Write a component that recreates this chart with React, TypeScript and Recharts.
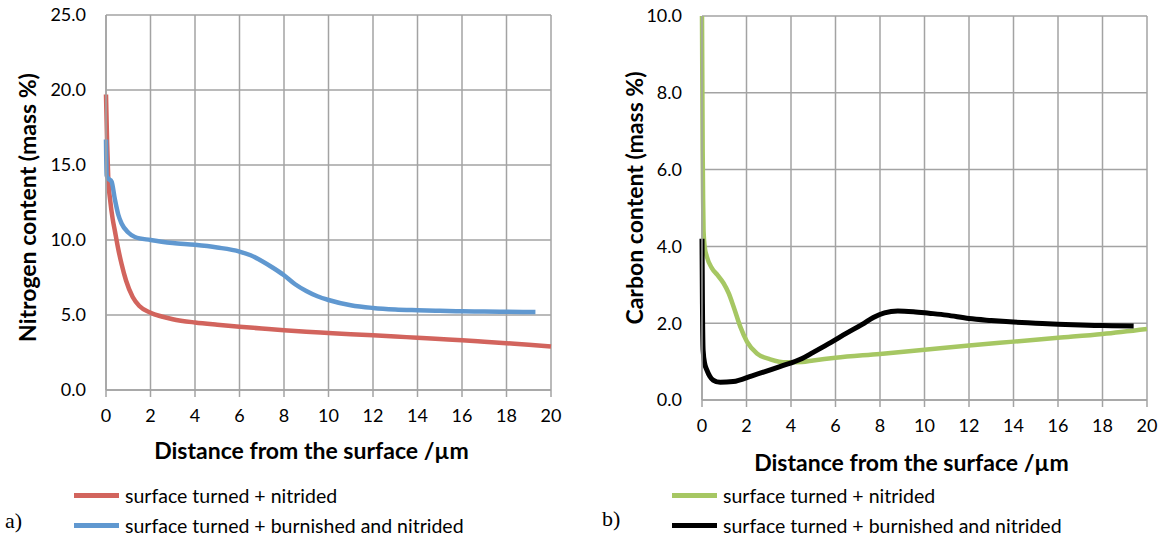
import { LineChart, Line, XAxis, YAxis, CartesianGrid, Legend } from 'recharts';

// a) nitrogen profiles
const redX = [0, 0.05, 0.1, 0.2, 0.3, 0.4, 0.55, 0.7, 0.9, 1.2, 1.5, 2, 2.5, 3, 4, 5, 6, 7, 8, 9, 10, 11, 12, 13, 14, 15, 16, 17, 18, 19, 20];
const redY = [19.7, 16.5, 14.2, 12.5, 11.4, 10.6, 9.4, 8.4, 7.3, 6.2, 5.6, 5.15, 4.9, 4.72, 4.5, 4.35, 4.22, 4.1, 3.98, 3.88, 3.8, 3.72, 3.65, 3.57, 3.48, 3.4, 3.32, 3.22, 3.12, 3.02, 2.9];

const blueX = [0, 0.03, 0.1, 0.25, 0.4, 0.55, 0.7, 1, 1.3, 2, 2.5, 3, 4, 5, 6, 6.5, 7, 7.5, 8, 8.5, 9, 9.5, 10, 11, 12, 13, 14, 15, 16, 17, 18, 19.3];
const blueY = [16.7, 14.3, 14.1, 13.9, 12.7, 11.7, 11.1, 10.5, 10.2, 10.0, 9.89, 9.8, 9.68, 9.5, 9.23, 8.98, 8.6, 8.15, 7.65, 7.05, 6.6, 6.25, 6.0, 5.65, 5.47, 5.37, 5.32, 5.28, 5.25, 5.23, 5.21, 5.2];

// b) carbon profiles
const greenX = [0, 0.03, 0.05, 0.07, 0.12, 0.22, 0.45, 0.7, 0.97, 1.2, 1.42, 1.72, 2.02, 2.47, 3.07, 3.8, 4.5, 5, 6, 8, 10, 12, 14, 16, 18, 20];
const greenY = [10.0, 6.5, 5.2, 4.4, 4.0, 3.73, 3.43, 3.25, 3.04, 2.78, 2.43, 1.91, 1.52, 1.21, 1.06, 0.98, 0.99, 1.03, 1.1, 1.2, 1.31, 1.42, 1.52, 1.62, 1.72, 1.85];

const blackX = [0, 0.02, 0.05, 0.12, 0.22, 0.35, 0.5, 0.82, 1.4, 2.25, 3.5, 4.5, 5, 5.8, 6.5, 7.2, 7.7, 8.2, 8.8, 9.5, 10.2, 11, 12, 13, 14, 15, 16, 17, 18, 19.4];
const blackY = [4.2, 2.5, 1.3, 0.95, 0.78, 0.62, 0.52, 0.46, 0.48, 0.63, 0.87, 1.08, 1.24, 1.5, 1.74, 1.97, 2.15, 2.27, 2.32, 2.3, 2.26, 2.21, 2.12, 2.07, 2.03, 2.0, 1.97, 1.95, 1.94, 1.93];

const xTicks = [0, 2, 4, 6, 8, 10, 12, 14, 16, 18, 20];
const nTicks = [0, 5, 10, 15, 20, 25];
const cTicks = [0, 2, 4, 6, 8, 10];

const seriesNames = ['surface turned + nitrided', 'surface turned + burnished and nitrided'];

const zip = (xs: number[], ys: number[]) => xs.map((x, i) => ({ x, y: ys[i] }));

const FONT = 'Lato, "Open Sans", sans-serif';
const GRID = '#a3a3a3';

function AxisTitle({ viewBox, text, rotate, dx, dy }: any) {
  const { x, y, width, height } = viewBox;
  const px = rotate ? x + dx : x + width / 2 + dx;
  const py = rotate ? y + height / 2 + dy : y + dy;
  return (
    <text
      x={px}
      y={py}
      transform={rotate ? `rotate(-90 ${px} ${py})` : undefined}
      textAnchor="middle"
      dominantBaseline="central"
      fontFamily={FONT}
      fontWeight={700}
      fontSize={23}
      fill="#000"
    >
      {text}
    </text>
  );
}

function LegendBox({ payload }: any) {
  const items = [...(payload || [])].sort(
    (a: any, b: any) => seriesNames.indexOf(a.value) - seriesNames.indexOf(b.value)
  );
  return (
    <div style={{ fontFamily: FONT, fontSize: 19.5, color: '#000' }}>
      {items.map((p: any, i: number) => (
        <div key={i} style={{ display: 'flex', alignItems: 'center', height: 30 }}>
          <span style={{ display: 'inline-block', width: 45, height: 5, background: p.color, marginRight: 6 }} />
          <span>{p.value}</span>
        </div>
      ))}
    </div>
  );
}

const tickStyle = { fontFamily: FONT, fontSize: 18, fill: '#000' };

function Panel({ left, width, yAxisW, margin, yTicks, yMax, yTitle, yTitleDx, yTitleDy, xTitleDx, xTitleDy, series, legendLeft }: any) {
  return (
    <div style={{ position: 'absolute', left, top: 0 }}>
      <LineChart width={width} height={541} margin={margin}>
        <CartesianGrid stroke={GRID} strokeWidth={1.5} horizontalValues={yTicks} verticalValues={xTicks} />
        <XAxis
          type="number"
          dataKey="x"
          domain={[0, 20]}
          ticks={xTicks}
          height={70}
          stroke={GRID}
          strokeWidth={1.5}
          tickSize={7}
          tickMargin={12}
          tick={tickStyle}
          label={{ content: (p: any) => <AxisTitle {...p} text="Distance from the surface /µm" dx={xTitleDx} dy={xTitleDy} /> }}
        />
        <YAxis
          type="number"
          domain={[0, yMax]}
          ticks={yTicks}
          width={yAxisW}
          stroke={GRID}
          strokeWidth={1.5}
          tickSize={0}
          tickMargin={20}
          tick={tickStyle}
          tickFormatter={(v: number) => v.toFixed(1)}
          label={{ content: (p: any) => <AxisTitle {...p} text={yTitle} rotate dx={yTitleDx} dy={yTitleDy} /> }}
        />
        {series.map((s: any, i: number) => (
          <Line
            key={i}
            data={s.data}
            dataKey="y"
            name={seriesNames[i]}
            type="monotone"
            stroke={s.color}
            strokeWidth={s.w}
            dot={false}
            isAnimationActive={false}
          />
        ))}
        <Legend
          layout="vertical"
          align="center"
          verticalAlign="middle"
          content={<LegendBox />}
          wrapperStyle={{ left: legendLeft, top: 480, width: 500 }}
        />
      </LineChart>
    </div>
  );
}

export default function App() {
  return (
    <div style={{ position: 'absolute', left: 0, top: 0, width: 1164, height: 541, background: '#fff', overflow: 'hidden' }}>
      <Panel
        left={0}
        width={580}
        yAxisW={106}
        margin={{ top: 15, right: 29, bottom: 81, left: 0 }}
        yTicks={nTicks}
        yMax={25}
        yTitle="Nitrogen content (mass %)"
        yTitleDx={27}
        yTitleDy={5}
        xTitleDx={-17}
        xTitleDy={60}
        legendLeft={74}
        series={[
          { data: zip(redX, redY), color: '#d2645d', w: 4.5 },
          { data: zip(blueX, blueY), color: '#6098d0', w: 4.5 },
        ]}
      />
      <Panel
        left={590}
        width={574}
        yAxisW={112}
        margin={{ top: 16, right: 17, bottom: 71, left: 0 }}
        yTicks={cTicks}
        yMax={10}
        yTitle="Carbon content (mass %)"
        yTitleDx={44}
        yTitleDy={-10}
        xTitleDx={-13}
        xTitleDy={62}
        legendLeft={82}
        series={[
          { data: zip(greenX, greenY), color: '#a6c763', w: 4.5 },
          { data: zip(blackX, blackY), color: '#000000', w: 5 },
        ]}
      />
      <div style={{ position: 'absolute', left: 5, top: 508, fontFamily: '"Liberation Serif", serif', fontSize: 22 }}>a)</div>
      <div style={{ position: 'absolute', left: 602, top: 506, fontFamily: '"Liberation Serif", serif', fontSize: 22 }}>b)</div>
    </div>
  );
}
